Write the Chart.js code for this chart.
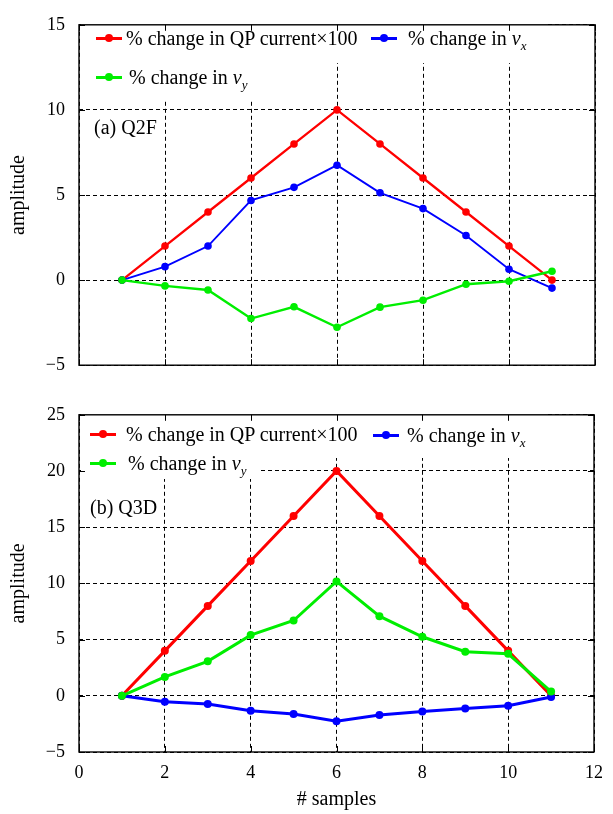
<!DOCTYPE html>
<html><head><meta charset="utf-8">
<script src="https://cdn.jsdelivr.net/npm/chart.js@4.4.1/dist/chart.umd.min.js"></script>
<style>
body{margin:0;background:#fff;}
#wrap{position:relative;width:613px;height:814px;font-family:"Liberation Serif","Times New Roman",serif;color:#000;overflow:hidden;}
canvas{position:absolute;left:0;}
.lg{position:absolute;font-size:20px;line-height:24px;white-space:nowrap;}
.ln{position:absolute;height:3px;width:26px;}
.dt{position:absolute;width:8px;height:8px;border-radius:50%;}
.sb{font-size:13px;position:relative;top:5px;font-style:italic;}
</style></head>
<body><div id="wrap">
<canvas id="c1" width="613" height="390" style="top:0"></canvas>
<canvas id="c2" width="613" height="424" style="top:390px"></canvas>
</div>
<script>
// ---- data ----
const samples = [1, 2, 3, 4, 5, 6, 7, 8, 9, 10, 11];
const q2fCurrent = [0, 2, 4, 6, 8, 10, 8, 6, 4, 2, 0];
const q2fVx = [0, 0.79, 2.0, 4.68, 5.45, 6.75, 5.13, 4.2, 2.62, 0.64, -0.47];
const q2fVy = [0, -0.34, -0.58, -2.26, -1.57, -2.77, -1.59, -1.18, -0.24, -0.07, 0.52];
const q3dCurrent = [0, 4, 8, 12, 16, 20, 16, 12, 8, 4, 0];
const q3dVx = [0, -0.53, -0.73, -1.33, -1.62, -2.27, -1.71, -1.39, -1.12, -0.88, -0.1];
const q3dVy = [0, 1.68, 3.07, 5.4, 6.7, 10.18, 7.08, 5.25, 3.92, 3.74, 0.38];
const xTicks = [0, 2, 4, 6, 8, 10, 12];
const yTicksA = [-5, 0, 5, 10, 15];
const yTicksB = [-5, 0, 5, 10, 15, 20, 25];
const seriesPrefix = ['% change in QP current×100', '% change in ', '% change in '];
const seriesVar = ['', 'v', 'v'];
const seriesSub = ['', 'x', 'y'];
const seriesColors = ['#ff0000', '#0000ff', '#00ee00'];
const panelLabels = ['(a) Q2F', '(b) Q3D'];
const xTitle = '# samples';
const yTitle = 'amplitude';

const FONT = '"Liberation Serif", "Times New Roman", serif';

const decoPlugin = {
  id: 'deco',
  beforeDatasetsDraw(chart, args, opts) {
    const ctx = chart.ctx; ctx.save(); ctx.fillStyle = '#fff';
    (opts.boxes || []).forEach(b => ctx.fillRect(b[0], b[1], b[2] - b[0], b[3] - b[1]));
    ctx.restore();
  },
  afterDraw(chart) {
    const {ctx, chartArea: a, scales: {x, y}} = chart;
    ctx.save(); ctx.strokeStyle = '#000'; ctx.lineWidth = 1.4; ctx.setLineDash([]);
    ctx.strokeRect(a.left, a.top, a.right - a.left, a.bottom - a.top);
    const L = 6;
    ctx.lineWidth = 1;
    ctx.beginPath();
    x.ticks.forEach(t => { const px = Math.round(x.getPixelForValue(t.value)) + 0.5;
      ctx.moveTo(px, a.top); ctx.lineTo(px, a.top + L); ctx.moveTo(px, a.bottom); ctx.lineTo(px, a.bottom - L); });
    y.ticks.forEach(t => { const py = Math.round(y.getPixelForValue(t.value)) + 0.5;
      ctx.moveTo(a.left, py); ctx.lineTo(a.left + L, py); ctx.moveTo(a.right, py); ctx.lineTo(a.right - L, py); });
    ctx.stroke(); ctx.restore();
  }
};

function makeDatasets(cur, vx, vy, widths, radii) {
  const vals = [cur, vx, vy];
  const order = [2, 1, 0];
  return vals.map((v, i) => ({
    label: seriesPrefix[i] + seriesVar[i] + seriesSub[i],
    data: samples.map((s, k) => ({x: s, y: v[k]})),
    borderColor: seriesColors[i], backgroundColor: seriesColors[i],
    borderWidth: widths[i], pointRadius: radii[i], pointBorderWidth: 0,
    pointStyle: 'circle', showLine: true, tension: 0, order: order[i]
  }));
}

function makeChart(id, H, bottomPx, topPad, yTicks, yMin, yMax, showX, datasets, boxes) {
  return new Chart(document.getElementById(id), {
    type: 'scatter',
    data: {datasets},
    plugins: [decoPlugin],
    options: {
      responsive: false, animation: false, devicePixelRatio: 1,
      layout: {padding: {top: topPad, right: 18, left: 0, bottom: 0}},
      plugins: {legend: {display: false}, tooltip: {enabled: false}, deco: {boxes}},
      scales: {
        x: {
          type: 'linear', min: 0, max: 12,
          afterBuildTicks: s => { s.ticks = xTicks.map(v => ({value: v})); },
          afterFit: s => { s.height = H - bottomPx; },
          grid: {color: '#000', lineWidth: 1, drawTicks: false},
          border: {display: false, dash: [4, 3]},
          ticks: {display: showX, color: '#000', font: {family: FONT, size: 18}, padding: 10, maxRotation: 0},
          title: {display: showX, text: xTitle, color: '#000', font: {family: FONT, size: 20}, padding: {top: 2, bottom: 2}}
        },
        y: {
          type: 'linear', min: yMin, max: yMax,
          afterBuildTicks: s => { s.ticks = yTicks.map(v => ({value: v})); },
          afterFit: s => { s.width = 79; },
          grid: {color: '#000', lineWidth: 1, drawTicks: false},
          border: {display: false, dash: [4, 3]},
          ticks: {color: '#000', font: {family: FONT, size: 18}, padding: 14,
            callback: v => String(v).replace('-', '\u2212')},
          title: {display: true, text: yTitle, color: '#000', font: {family: FONT, size: 20}, padding: {top: 7, bottom: 7}}
        }
      }
    }
  });
}

makeChart('c1', 390, 367, 14, yTicksA, -5, 15, false,
  makeDatasets(q2fCurrent, q2fVx, q2fVy, [2.3, 1.9, 2.4], [3.8, 3.8, 3.8]),
  [[81, 15, 545, 63], [81, 15, 258, 99]]);
makeChart('c2', 424, 362, 22, yTicksB, -5, 25, true,
  makeDatasets(q3dCurrent, q3dVx, q3dVy, [3, 3, 3], [4, 4, 4]),
  [[81, 23, 545, 68], [81, 23, 258, 89]]);

// ---- legends & panel labels (HTML text) ----
const wrap = document.getElementById('wrap');
const legendPos = [
  [{s: 0, lx: 96, tx: 126, cy: 38}, {s: 1, lx: 371, tx: 408, cy: 38}, {s: 2, lx: 96, tx: 129, cy: 77}],
  [{s: 0, lx: 90, tx: 126, cy: 434}, {s: 1, lx: 373, tx: 407, cy: 435}, {s: 2, lx: 90, tx: 128, cy: 463}]
];
const labelPos = [[94, 127], [90, 507]];
function el(cls, css) { const d = document.createElement('div'); d.className = cls; Object.assign(d.style, css); wrap.appendChild(d); return d; }
legendPos.forEach((items, p) => {
  items.forEach(it => {
    el('ln', {left: it.lx + 'px', top: (it.cy - 1.5) + 'px', background: seriesColors[it.s]});
    el('dt', {left: (it.lx + 9) + 'px', top: (it.cy - 4) + 'px', background: seriesColors[it.s]});
    const t = el('lg', {left: it.tx + 'px', top: (it.cy - 12) + 'px'});
    t.appendChild(document.createTextNode(seriesPrefix[it.s]));
    if (seriesVar[it.s]) {
      const v = document.createElement('i'); v.textContent = seriesVar[it.s]; t.appendChild(v);
      const sb = document.createElement('span'); sb.className = 'sb'; sb.textContent = seriesSub[it.s]; t.appendChild(sb);
    }
  });
  const lab = el('lg', {left: labelPos[p][0] + 'px', top: (labelPos[p][1] - 12) + 'px'});
  lab.textContent = panelLabels[p];
});
</script>
</body></html>
